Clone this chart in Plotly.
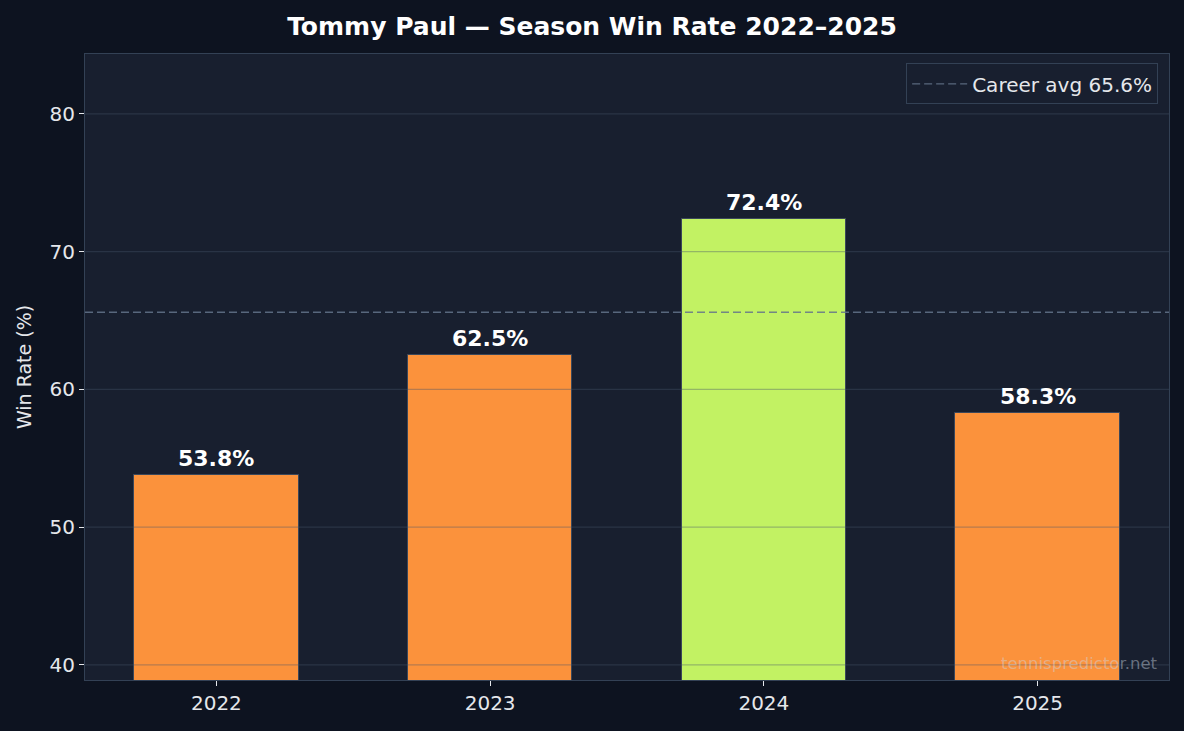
import plotly.graph_objects as go

years = ["2022", "2023", "2024", "2025"]
win_rates = [53.8, 62.5, 72.4, 58.3]
bar_colors = ["#fb923c", "#fb923c", "#c2f263", "#fb923c"]
career_avg = 65.6
y_ticks = [40, 50, 60, 70, 80]

BG = "#0d1320"
PLOT_BG = "#181f2f"
SPINE = "#334155"
TXT = "#e5e7eb"
FONT = "DejaVu Sans"

fig = go.Figure()
fig.add_trace(go.Bar(
    x=list(range(len(years))), y=win_rates, width=0.6,
    marker=dict(color=bar_colors, line=dict(color="#3b475a", width=1)),
    showlegend=False, hoverinfo="skip",
))

for i, v in enumerate(win_rates):
    fig.add_annotation(x=i, y=v, text=f"<b>{v:.1f}%</b>", showarrow=False,
                       yanchor="bottom", yshift=2,
                       font=dict(family=FONT, size=22, color="#ffffff"))

# grid lines above bars (matplotlib style)
for t in y_ticks:
    fig.add_shape(type="line", xref="paper", x0=0, x1=1, yref="y", y0=t, y1=t,
                  line=dict(color="rgba(71,85,105,0.38)", width=1.2), layer="above")

fig.add_shape(type="line", xref="paper", x0=0, x1=1, yref="y",
              y0=career_avg, y1=career_avg,
              line=dict(color="rgba(100,116,139,0.85)", width=1.4, dash="8px,4px"),
              layer="above", showlegend=True, name=f"Career avg {career_avg}%")

fig.add_annotation(xref="paper", yref="paper", x=0.992, y=0.008, text="tennispredictor.net",
                   showarrow=False, xanchor="right", yanchor="bottom",
                   font=dict(family=FONT, size=16.5, color="rgba(203,213,225,0.45)"))

fig.update_layout(
    width=1184, height=731,
    paper_bgcolor=BG, plot_bgcolor=PLOT_BG,
    margin=dict(l=85, r=15, t=54, b=51),
    title=dict(text="<b>Tommy Paul — Season Win Rate 2022–2025</b>", x=0.5, xanchor="center",
               y=1 - 26 / 731, yanchor="middle",
               font=dict(family=FONT, size=25, color="#ffffff")),
    font=dict(family=FONT, color=TXT, size=18),
    bargap=0,
    legend=dict(x=0.99, y=0.985, xanchor="right", yanchor="top", itemwidth=55,
                bgcolor=PLOT_BG, bordercolor=SPINE, borderwidth=1,
                font=dict(family=FONT, size=20, color=TXT)),
    xaxis=dict(range=[-0.48, 3.48], tickvals=list(range(len(years))), ticktext=years,
               showgrid=False, zeroline=False, ticks="outside", ticklen=5,
               tickcolor=TXT, showline=True, linecolor=SPINE, mirror=True,
               tickfont=dict(size=20, color=TXT)),
    yaxis=dict(range=[38.9, 84.35], tickvals=y_ticks, showgrid=False, zeroline=False,
               ticks="outside", ticklen=5, tickcolor=TXT, showline=True,
               linecolor=SPINE, mirror=True, tickfont=dict(size=20, color=TXT),
               title=dict(text="Win Rate (%)", font=dict(size=19, color=TXT), standoff=12)),
)

fig.write_html("out.html")
